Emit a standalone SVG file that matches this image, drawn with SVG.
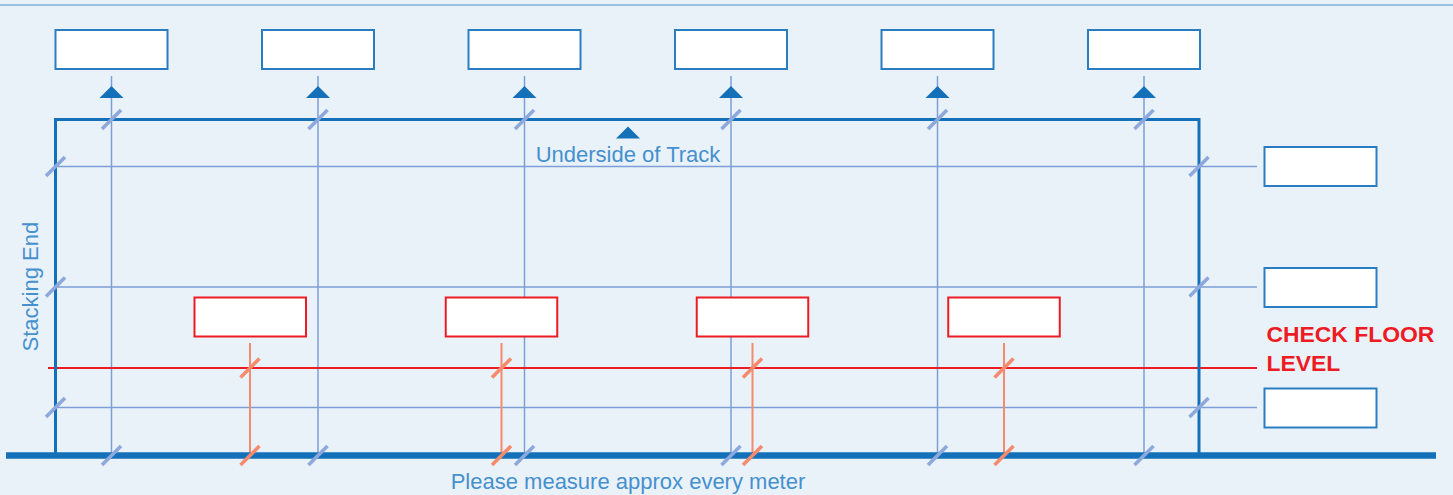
<svg xmlns="http://www.w3.org/2000/svg" width="1453" height="495" viewBox="0 0 1453 495">
<style>
.bg{fill:#EAF2F9}
.topbox{fill:#FFFFFF;stroke:#2A7DC1;stroke-width:2}
.redbox{fill:#FFFFFF;stroke:#ED1C24;stroke-width:2}
.grid{stroke:#7E9ED6;stroke-width:1.5;fill:none}
.tick{stroke:#8CA8DC;stroke-width:3.5;fill:none}
.otick{stroke:#F58A6C;stroke-width:3.5;fill:none}
.oline{stroke:#F58A6C;stroke-width:2;fill:none}
.frame{stroke:#1570BA;stroke-width:3;fill:none}
.floor{stroke:#1570BA;stroke-width:6.5;fill:none}
.tri{fill:#1570BA}
.lbl{font-family:"Liberation Sans",Arial,sans-serif;font-size:22px;fill:#4590CE}
.warn{font-family:"Liberation Sans",Arial,sans-serif;font-size:22.9px;font-weight:bold;fill:#ED1C24}
</style>
<defs>
<path id="tk" d="M-9.5,9.5 L9.5,-9.5"/>
<path id="tr" d="M0,-12 L-12,0 L12,0 Z"/>
</defs>
<rect class="bg" x="0" y="0" width="1453" height="495"/>
<line x1="0" y1="5" x2="1453" y2="5" stroke="#7AB0DA" stroke-width="1.5"/>

<g id="connectors">
  <g class="grid">
    <line x1="111.5" y1="76" x2="111.5" y2="455"/>
    <line x1="318" y1="76" x2="318" y2="455"/>
    <line x1="524.5" y1="76" x2="524.5" y2="455"/>
    <line x1="731" y1="76" x2="731" y2="455"/>
    <line x1="937.5" y1="76" x2="937.5" y2="455"/>
    <line x1="1144" y1="76" x2="1144" y2="455"/>
    <line x1="55" y1="166.5" x2="1257" y2="166.5"/>
    <line x1="55" y1="287" x2="1257" y2="287"/>
    <line x1="55" y1="407.5" x2="1257" y2="407.5"/>
  </g>
  <g class="oline">
    <line x1="250" y1="343" x2="250" y2="455"/>
    <line x1="501.5" y1="343" x2="501.5" y2="455"/>
    <line x1="752.5" y1="343" x2="752.5" y2="455"/>
    <line x1="1004" y1="343" x2="1004" y2="455"/>
  </g>
  <line x1="48" y1="368" x2="1257" y2="368" stroke="#ED1C24" stroke-width="2"/>
  <path class="frame" d="M55.5,455 L55.5,119.5 L1199,119.5 L1199,455"/>
  <line class="floor" x1="6" y1="455.5" x2="1436" y2="455.5"/>
  <g class="tri">
    <use href="#tr" x="111.5" y="98"/>
    <use href="#tr" x="318" y="98"/>
    <use href="#tr" x="524.5" y="98"/>
    <use href="#tr" x="731" y="98"/>
    <use href="#tr" x="937.5" y="98"/>
    <use href="#tr" x="1144" y="98"/>
    <use href="#tr" x="628" y="138.5"/>
  </g>
  <g class="tick">
    <use href="#tk" x="111.5" y="119.5"/>
    <use href="#tk" x="318" y="119.5"/>
    <use href="#tk" x="524.5" y="119.5"/>
    <use href="#tk" x="731" y="119.5"/>
    <use href="#tk" x="937.5" y="119.5"/>
    <use href="#tk" x="1144" y="119.5"/>
    <use href="#tk" x="111.5" y="455.5"/>
    <use href="#tk" x="318" y="455.5"/>
    <use href="#tk" x="524.5" y="455.5"/>
    <use href="#tk" x="731" y="455.5"/>
    <use href="#tk" x="937.5" y="455.5"/>
    <use href="#tk" x="1144" y="455.5"/>
    <use href="#tk" x="55.5" y="166.5"/>
    <use href="#tk" x="55.5" y="287"/>
    <use href="#tk" x="55.5" y="407.5"/>
    <use href="#tk" x="1199" y="166.5"/>
    <use href="#tk" x="1199" y="287"/>
    <use href="#tk" x="1199" y="407.5"/>
  </g>
  <g class="otick">
    <use href="#tk" x="250" y="368"/>
    <use href="#tk" x="501.5" y="368"/>
    <use href="#tk" x="752.5" y="368"/>
    <use href="#tk" x="1004" y="368"/>
    <use href="#tk" x="250" y="455.5"/>
    <use href="#tk" x="501.5" y="455.5"/>
    <use href="#tk" x="752.5" y="455.5"/>
    <use href="#tk" x="1004" y="455.5"/>
  </g>
</g>

<g id="top1"><rect class="topbox" x="55.5" y="30" width="112" height="39"/></g>
<g id="top2"><rect class="topbox" x="262" y="30" width="112" height="39"/></g>
<g id="top3"><rect class="topbox" x="468.5" y="30" width="112" height="39"/></g>
<g id="top4"><rect class="topbox" x="675" y="30" width="112" height="39"/></g>
<g id="top5"><rect class="topbox" x="881.5" y="30" width="112" height="39"/></g>
<g id="top6"><rect class="topbox" x="1088" y="30" width="112" height="39"/></g>

<g id="right1"><rect class="topbox" x="1264.5" y="147" width="112" height="39"/></g>
<g id="right2"><rect class="topbox" x="1264.5" y="268" width="112" height="39"/></g>
<g id="right3"><rect class="topbox" x="1264.5" y="388.5" width="112" height="39"/></g>

<g id="red1"><rect class="redbox" x="194.5" y="297.5" width="111.5" height="39"/></g>
<g id="red2"><rect class="redbox" x="445.75" y="297.5" width="111.5" height="39"/></g>
<g id="red3"><rect class="redbox" x="696.75" y="297.5" width="111.5" height="39"/></g>
<g id="red4"><rect class="redbox" x="948.25" y="297.5" width="111.5" height="39"/></g>

<g id="labels">
  <text class="lbl" x="628" y="161.5" text-anchor="middle">Underside of Track</text>
  <text class="lbl" x="628" y="489" text-anchor="middle">Please measure approx every meter</text>
  <text class="lbl" transform="translate(37.5,286.7) rotate(-90)" text-anchor="middle">Stacking End</text>
  <text class="warn" x="1266.5" y="341.5">CHECK FLOOR</text>
  <text class="warn" x="1266.5" y="370.5">LEVEL</text>
</g>
</svg>
